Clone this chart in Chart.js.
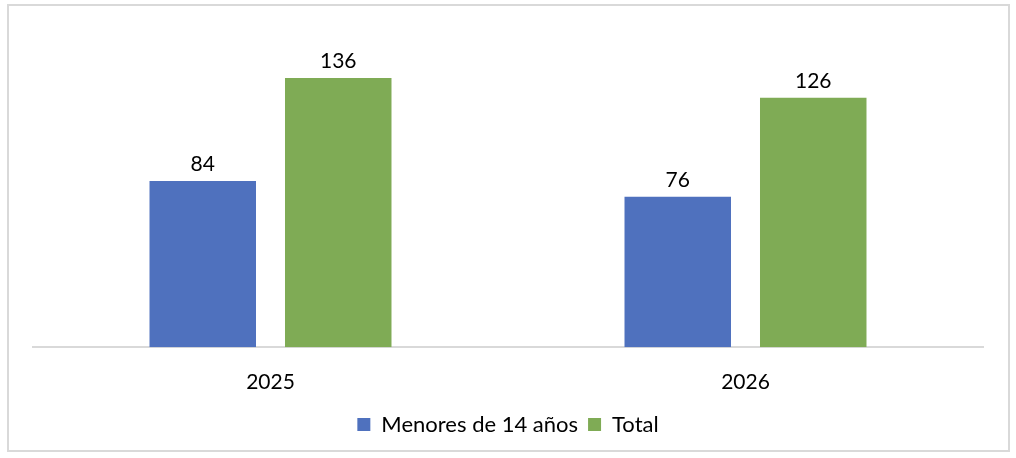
<!DOCTYPE html>
<html>
<head>
<meta charset="utf-8">
<script src="https://cdn.jsdelivr.net/npm/chart.js@4.4.1/dist/chart.umd.min.js"></script>
<style>
  html, body { margin: 0; padding: 0; background: #fff; }
  #wrap { position: relative; width: 1016px; height: 458px; }
  #frame {
    position: absolute; left: 7px; top: 4px; width: 1003px; height: 448px;
    box-sizing: border-box; border: 2px solid #d9d9d9; pointer-events: none;
  }
</style>
</head>
<body>
<div id="wrap">
  <canvas id="chart" width="1016" height="458"></canvas>
  <div id="frame"></div>
</div>
<script>
// chart data
const years = ['2025', '2026'];
const menores = [84, 76];
const total = [136, 126];
const seriesNames = ['Menores de 14 años', 'Total'];

const FONT = { family: 'Lato', size: 21 };
const LEGEND_FONT = { family: 'Lato', size: 22 };

// draws the number above each bar
const barValues = {
  id: 'barValues',
  afterDatasetsDraw(chart) {
    const ctx = chart.ctx;
    ctx.save();
    ctx.font = `${FONT.size}px ${FONT.family}`;
    ctx.fillStyle = '#000';
    ctx.textAlign = 'center';
    ctx.textBaseline = 'alphabetic';
    chart.data.datasets.forEach((ds, i) => {
      chart.getDatasetMeta(i).data.forEach((bar, j) => {
        ctx.fillText(String(ds.data[j]), bar.x, bar.y - 10);
      });
    });
    ctx.restore();
  }
};

new Chart(document.getElementById('chart'), {
  type: 'bar',
  data: {
    labels: years,
    datasets: [
      { label: seriesNames[0], data: menores, backgroundColor: '#4F71BE' },
      { label: seriesNames[1], data: total, backgroundColor: '#7FAB55' }
    ]
  },
  options: {
    responsive: false,
    animation: false,
    categoryPercentage: 0.5705,
    barPercentage: 0.786,
    layout: { padding: { left: 33, right: 33, top: 30.5, bottom: 12.5 } },
    scales: {
      x: {
        grid: { display: false, drawTicks: false },
        border: { color: '#d9d9d9', width: 2 },
        ticks: { color: '#000', font: FONT, padding: 22 },
        afterFit(scale) { scale.height -= 13; }
      },
      y: { display: false, min: 0, max: 160 }
    },
    plugins: {
      legend: {
        position: 'bottom',
        labels: { color: '#000', font: LEGEND_FONT, boxWidth: 13, boxHeight: 13, padding: 10 }
      },
      tooltip: { enabled: false }
    }
  },
  plugins: [barValues]
});
</script>
</body>
</html>
